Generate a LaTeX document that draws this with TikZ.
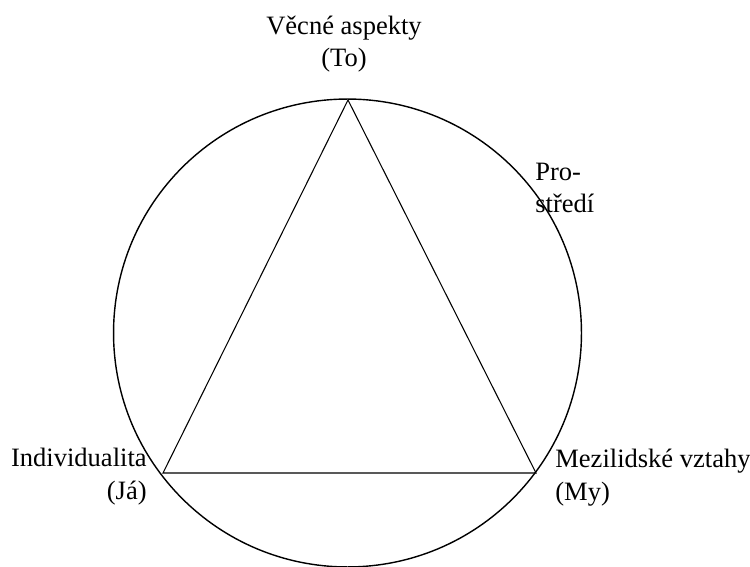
\documentclass[tikz,border=0pt]{standalone}
\usepackage{fontspec}
\setmainfont{Liberation Serif}
\usetikzlibrary{positioning,calc}
\tikzset{
  ring/.style={draw=black,line width=0.8pt},
  tri/.style={draw=black,line width=0.6pt,line join=miter},
  lbl/.style={font=\fontsize{15.1}{18.7}\selectfont,inner sep=0pt,text=black},
}

\begin{document}
\begin{tikzpicture}[x=0.02cm,y=-0.02cm]
    \useasboundingbox (0,0) rectangle (750,567);
    % circle and triangle
    \coordinate (c) at (347.5,333);
    \draw[ring] (c) circle [radius=4.68cm];
    \coordinate (to) at (348,100);
    \coordinate (ja) at (163,473);
    \coordinate (my) at (536,473);
    \draw[tri] (to) -- (ja) -- (my) -- cycle;

    % labels (base = last line)
    \node[lbl,align=center,anchor=base] (lto) at (344,67) {Věcné aspekty\\(To)};
    \node[lbl,align=left,anchor=base west] (lpro) at (535,213) {Pro-\\středí};
    \node[lbl,align=right,anchor=base east] (lja) at (147,499) {Individualita\\(Já)};
    \node[lbl,align=left,anchor=base west] (lmy) at (555,500) {Mezilidské vztahy\\(My)};
\end{tikzpicture}
\end{document}
